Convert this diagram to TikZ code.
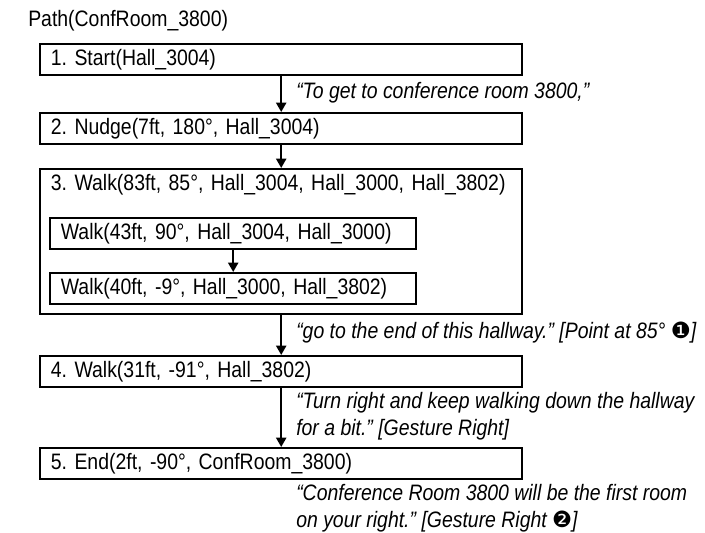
\documentclass[tikz,border=0pt]{standalone}
\usepackage{fontspec}
\setmainfont{Liberation Sans}[FakeStretch=0.87]
\newfontfamily\dingfont{DejaVu Sans}
\usetikzlibrary{arrows.meta}
\frenchspacing

\tikzset{
  stepbox/.style={draw, line width=1.8pt, anchor=north west, minimum height=23.25pt,
    inner xsep=8pt, inner ysep=0pt, text width=345.5pt, align=left},
  subbox/.style={stepbox, text width=258.5pt},
  flow/.style={-{Triangle[length=7pt,width=7.5pt]}, line width=1.6pt},
  say/.style={anchor=west, font=\fontsize{16.75}{20.25}\selectfont\itshape, inner sep=0pt, align=left},
}

\begin{document}
\begin{tikzpicture}[x=0.75pt, y=-0.75pt, font=\fontsize{16.75}{20.25}\selectfont]
    \useasboundingbox (0,0) rectangle (705,532);
    % Title
    \node[anchor=west, inner sep=0pt] (path) at (28,21) {Path(ConfRoom\_3800)};
    % Steps
    \node[stepbox] (start) at (39,43) {1. Start(Hall\_3004)};
    \node[stepbox] (nudge) at (39,112) {2. Nudge(7ft, 180°, Hall\_3004)};
    \node[stepbox, minimum height=108.75pt] (walk) at (39,168) {};
    \node[stepbox, draw=none] (walktitle) at (39,168) {3. Walk(83ft, 85°, Hall\_3004, Hall\_3000, Hall\_3802)};
    \node[subbox] (legA) at (49,217) {Walk(43ft, 90°, Hall\_3004, Hall\_3000)};
    \node[subbox] (legB) at (49,272) {Walk(40ft, -9°, Hall\_3000, Hall\_3802)};
    \node[stepbox] (walkB) at (39,355) {4. Walk(31ft, -91°, Hall\_3802)};
    \node[stepbox] (end) at (39,447) {5. End(2ft, -90°, ConfRoom\_3800)};
    % Arrows
    \draw[flow] (start) -- (nudge);
    \draw[flow] (nudge) -- (walk);
    \draw[flow] (legA) -- (legB);
    \draw[flow] (walk) -- (walkB);
    \draw[flow] (walkB) -- (end);
    % Spoken directions
    \node[say] (sayA) at (296,93) {“To get to conference room 3800,”};
    \node[say] (sayB) at (296,333) {“go to the end of this hallway.” [Point at 85° {\upshape\dingfont ❶}]};
    \node[say] (sayC) at (296,416.5) {“Turn right and keep walking down the hallway\\for a bit.” [Gesture Right]};
    \node[say] (sayD) at (296,508.5) {“Conference Room 3800 will be the first room\\on your right.” [Gesture Right {\upshape\dingfont ❷}]};
  \end{tikzpicture}
\end{document}
